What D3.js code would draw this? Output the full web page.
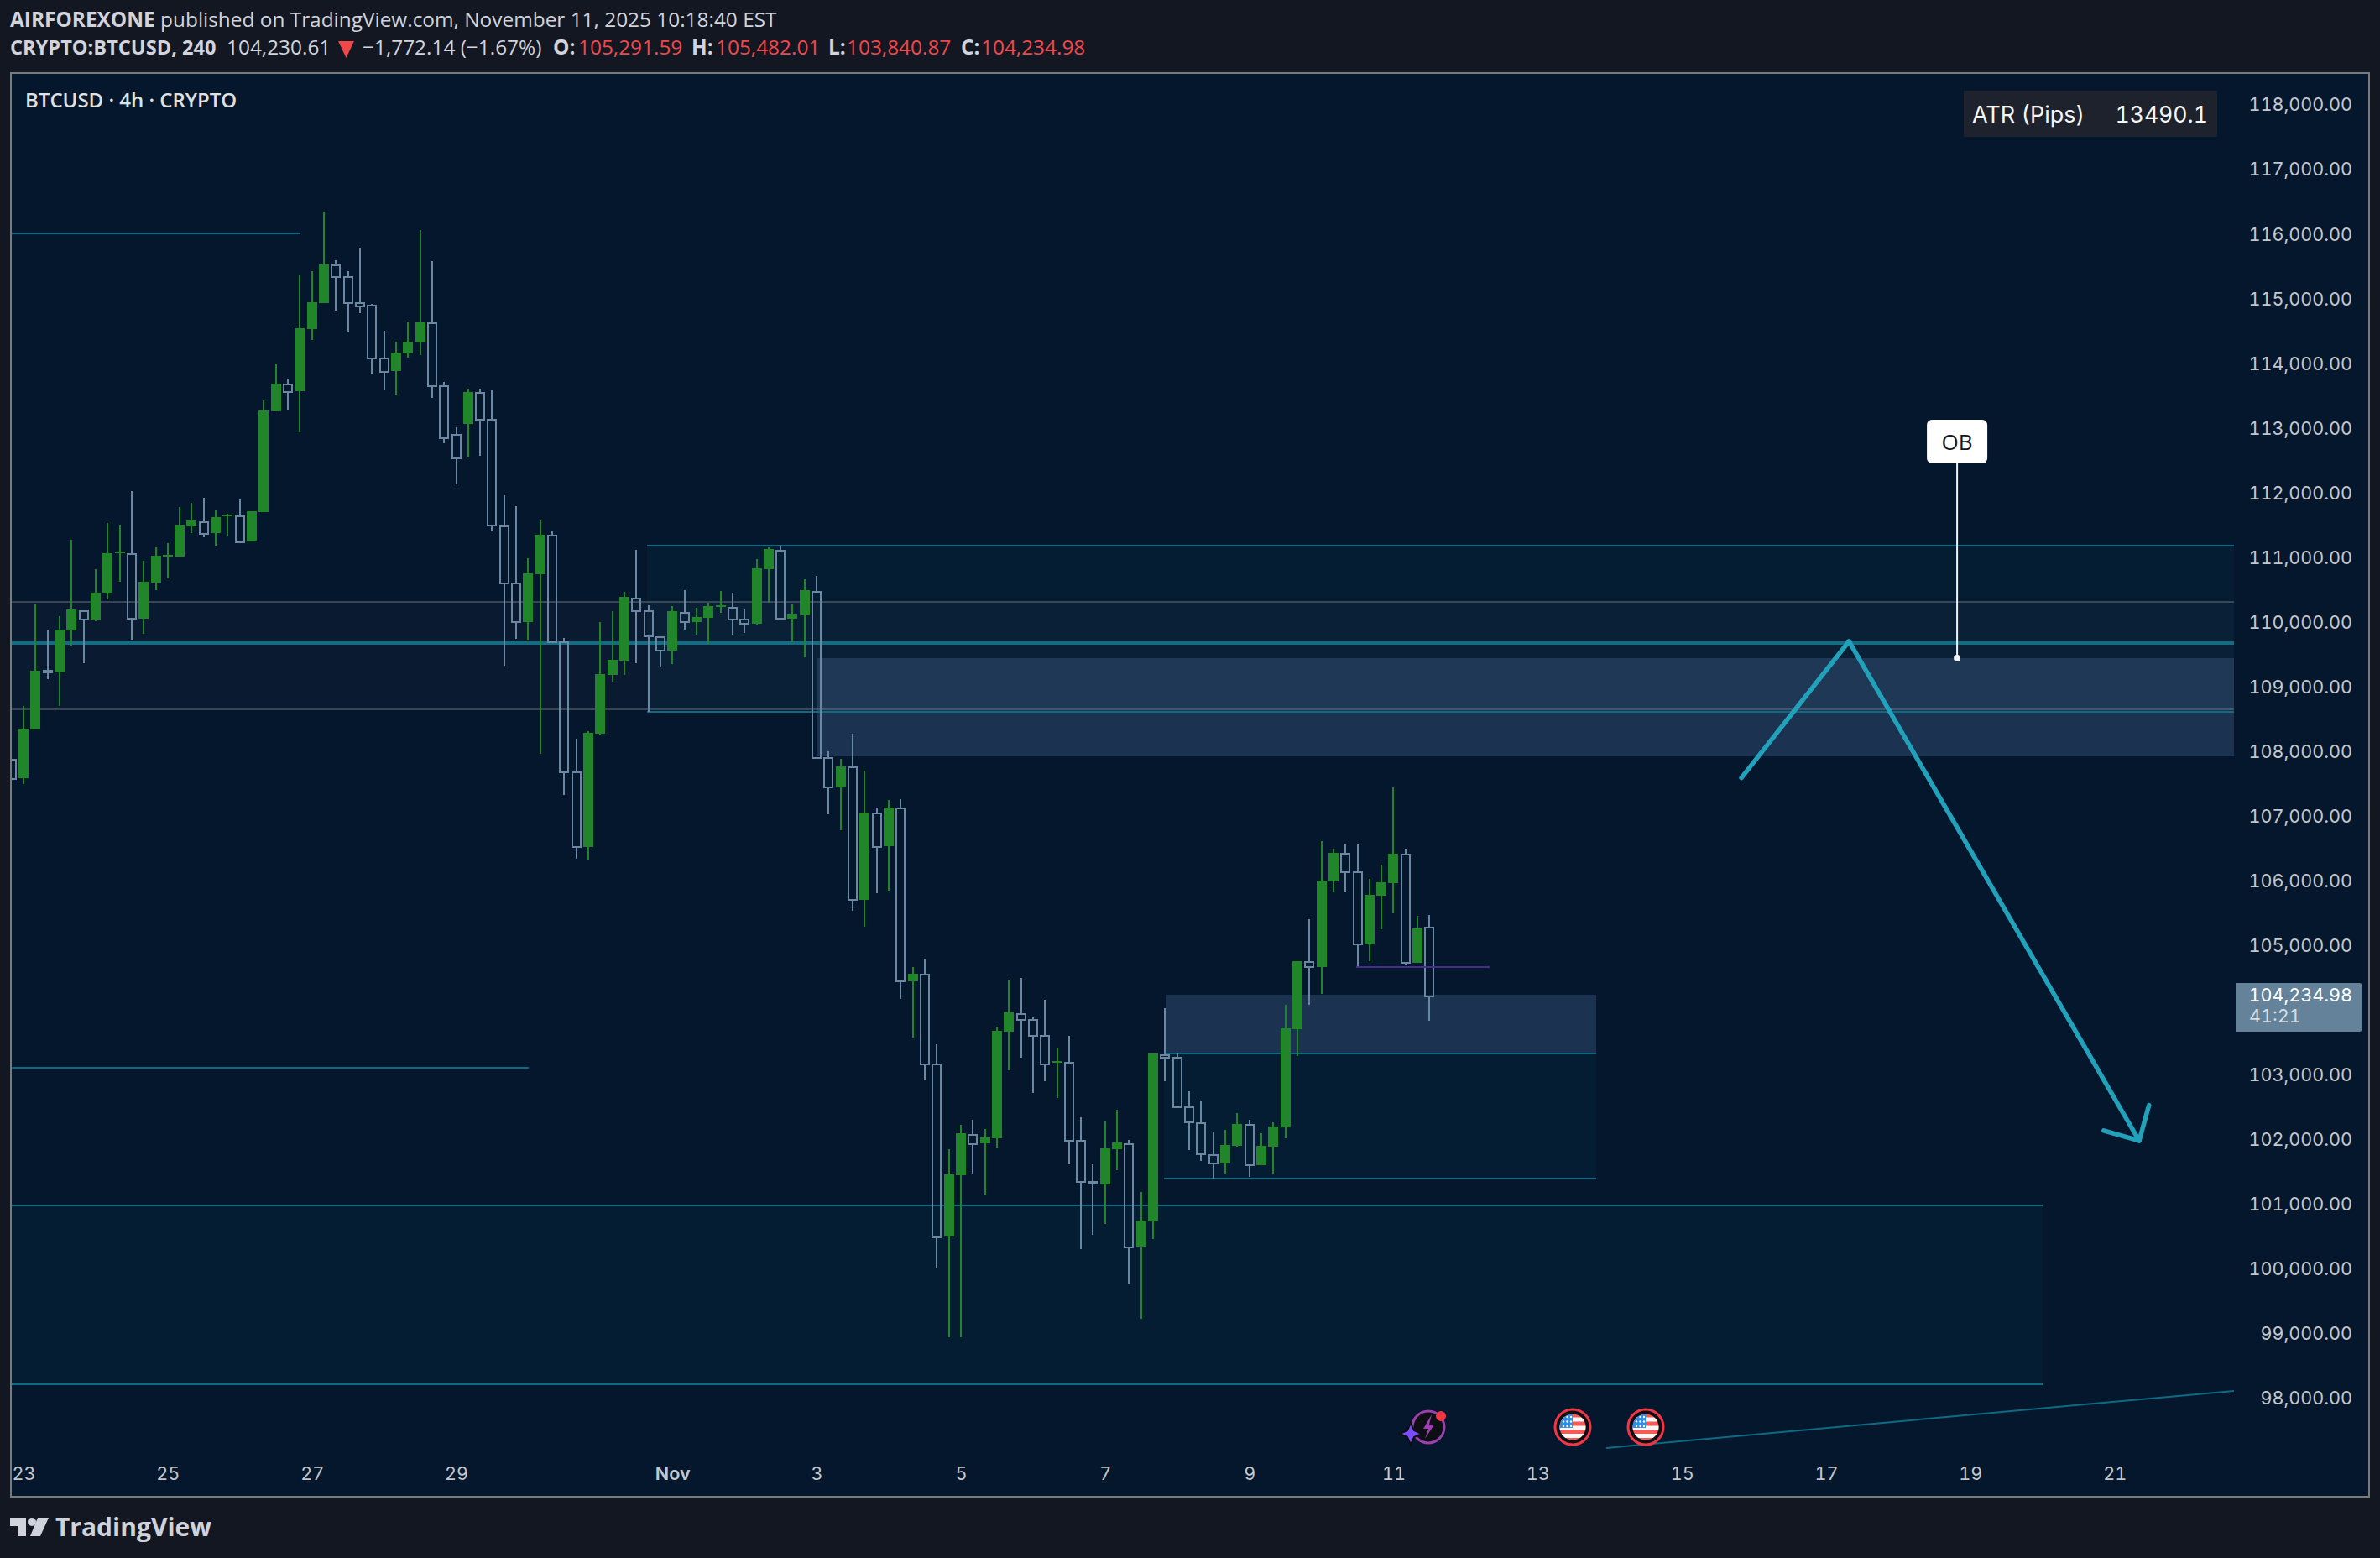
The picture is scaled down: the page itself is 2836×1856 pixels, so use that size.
<!DOCTYPE html>
<html>
<head>
<meta charset="utf-8">
<script src="https://cdn.jsdelivr.net/npm/d3@7"></script>
<style>
html,body{margin:0;padding:0;background:#131722;}
svg{display:block;}
text{font-family:"Open Sans",sans-serif;}
.num{font-family:Inter,sans-serif !important;font-feature-settings:"tnum" 1;font-variant-numeric:tabular-nums;}
</style>
</head>
<body>
<div id="chart"></div>
<script>
// ---- OHLC, 4h bars; the first bar sits one step before Oct 23 00:00 ----
const firstBar = -1;
const opens = [107886,107596,108348,109262,109227,109876,110191,110045,110447,111070,111074,110058,110616,111018,111018,111485,111567,111381,111641,111650,111252,111706,113263,113691,113575,114535,114937,115530,115349,114950,114907,114090,113886,114159,114327,114639,113665,112906,113069,113562,113147,111502,110620,110006,110745,111352,109701,107692,106528,108280,109188,109409,110386,110183,109789,109564,110165,110006,110071,110239,110243,110054,109980,110823,111126,110058,110110,110490,107910,107449,107767,105710,107054,106541,107138,104451,104568,103179,100506,101453,102093,101946,102024,103672,103958,103867,103614,103199,103199,101998,101362,101310,101856,101950,100350,100739,103327,103279,102521,102275,101782,101635,101907,102238,101609,101894,102193,103711,104759,104672,105995,106433,106147,105022,105775,105970,106420,104737,105291.59];
const highs = [107886,108708,110278,109876,110097,111278,110191,110823,111537,111498,112030,110953,111161,111226,111784,111849,111926,111732,111680,111900,111719,113432,113990,113769,115366,115430,116353,115599,115430,115794,114924,114509,114340,114652,116066,115586,113717,113010,113613,113613,113588,111965,111797,110992,111576,111420,109759,108202,108319,110006,110174,110473,111122,110265,109789,110252,110499,110226,110304,110486,110460,110200,110979,111161,111187,110278,110668,110720,108007,107893,108280,107709,107138,107255,107268,104672,104802,103478,101856,102232,102310,102167,103750,104477,104503,103906,104166,103426,103608,102349,101622,102284,102465,101998,101187,103335,104036,103335,102751,102608,102128,102154,102414,102310,102102,102271,104088,104763,105411,106618,106502,106567,106567,106034,106255,107449,106502,105463,105482.01];
const lows = [107596,107505,108348,109123,108708,109642,109370,110019,110356,110629,109733,109824,110499,110681,111018,111381,111316,111187,111342,111256,111252,111706,113263,113289,112939,114366,114937,114820,114496,114781,113847,113601,113510,114094,114133,113470,112770,112140,112543,112569,111407,109331,109746,109720,107968,109701,107332,106342,106329,108254,109084,109188,109370,108617,109305,109357,109889,109811,109668,110148,109811,109837,109967,110304,110064,109694,109461,107912,107034,106787,105541,105295,105814,105840,104179,103582,102920,100013,98948,98948,101479,101155,101881,103075,103270,102725,102907,102647,101622,100311,100532,100700,101531,99766,99234,100467,102907,102504,101843,101674,101401,101466,101894,101427,101609,101479,102024,103296,104088,104256,105827,105827,104672,104763,105256,105502,104711,104737,103840.87];
const closes = [107596,108357,109253,109240,109889,110200,110054,110460,111070,111096,110064,110629,111031,111044,111498,111576,111385,111628,111667,111256,111719,113276,113691,113578,114548,114950,115535,115349,114946,114898,114090,113890,114172,114340,114639,113665,112860,112543,113562,113147,111511,110609,110015,110758,111355,109701,107692,106537,108293,109201,109422,110395,110183,109794,109574,110174,110015,110084,110252,110265,110054,109989,110836,111135,110064,110122,110499,107912,107457,107773,105723,107060,106545,107138,104464,104568,103179,100511,101466,102102,101950,102037,103685,103971,103867,103614,103179,103218,101998,101362,101330,101868,101959,100355,100752,103335,103277,102521,102280,101787,101644,101920,102245,101618,101907,102206,103724,104763,104681,106008,106437,106147,105031,105788,105983,106424,104746,105269,104234.98];

// ---- Axis ticks ----
const priceTicks = [98000,99000,100000,101000,102000,103000,105000,106000,107000,108000,109000,110000,111000,112000,113000,114000,115000,116000,117000,118000];
const timeTickBars = [0,12,24,36,54,66,78,90,102,114,126,138,150,162,174];
const timeTickLabels = ["23","25","27","29","Nov","3","5","7","9","11","13","15","17","19","21"];

// ---- Drawings (bar index / price) ----
const lastPrice = 104234.98;
const paneStartBar = -0.98, paneEndBar = 183.94;
const greyBandTop = 110317, greyBandBottom = 108656;
const thickLevel = 109685;
const upperZone = {x0:51.9, x1:paneEndBar, top:111187, bottom:108617};
const obZone = {x0:66.06, x1:paneEndBar, top:109447, bottom:107933};
const lowerObZone = {x0:95.04, x1:130.9, top:104240, bottom:103339};
const lowerZone = {x0:94.9, x1:130.9, top:103339, bottom:101405};
const bottomZone = {x0:paneStartBar, x1:168.0, top:100989, bottom:98222};
const topLeftLevel = {x0:paneStartBar, x1:23.04, price:116018};
const midLeftLevel = {x0:paneStartBar, x1:42.04, price:103120};
const purpleLevel = {x0:110.9, x1:122.0, price:104676};
const trendBars = [131.7,183.94], trendPrices = [97235,98118];
const pathBars = [142.95,151.9,176.05], pathPrices = [107596,109707,101985];
const headBars = [176.86,176.05,173.1], headPrices = [102534,101985,102141];
const obAnchorBar = 160.9, obAnchorPrice = 109447;

const W=2836,H=1856;
const frame={l:13,t:87,r:2823,b:1783};
const x=d3.scaleLinear().domain([0,1]).range([28,42.32]);
const y=d3.scaleLinear().domain([98000,118000]).range([1666,125]);

const svg=d3.select("#chart").append("svg").attr("width",W).attr("height",H);
svg.append("rect").attr("width",W).attr("height",H).attr("fill","#131722");
svg.append("rect").attr("x",frame.l).attr("y",frame.t).attr("width",frame.r-frame.l).attr("height",frame.b-frame.t)
   .attr("fill","#05172D").attr("stroke","#787B7C").attr("stroke-width",2);

const defs=svg.append("defs");
defs.append("clipPath").attr("id","pane").append("rect").attr("x",14).attr("y",88).attr("width",2648).attr("height",1694);
const pane=svg.append("g").attr("clip-path","url(#pane)");
const crisp=g=>g.attr("shape-rendering","crispEdges");

const TEAL="#0C6B84", FILLT="rgba(10,100,120,0.08)", FILLOB="rgba(60,90,130,0.42)", GREY="rgba(120,123,134,0.45)";
const sx=v=>Math.round(x(v)), sy=v=>Math.round(y(v));
function band(z,fill){pane.append("rect").call(crisp).attr("x",sx(z.x0)).attr("width",sx(z.x1)-sx(z.x0)).attr("y",sy(z.top)).attr("height",sy(z.bottom)-sy(z.top)).attr("fill",fill);}
function level(x0,x1,p,c,w){pane.append("line").call(crisp).attr("x1",sx(x0)).attr("x2",sx(x1)).attr("y1",sy(p)).attr("y2",sy(p)).attr("stroke",c).attr("stroke-width",w||2);}

band({x0:paneStartBar,x1:paneEndBar,top:greyBandTop,bottom:greyBandBottom},"rgba(120,123,134,0.05)");
band(upperZone,FILLT);
band(lowerZone,FILLT);
band(bottomZone,FILLT);
band(obZone,FILLOB);
band(lowerObZone,FILLOB);
level(paneStartBar,paneEndBar,greyBandTop,GREY);
level(paneStartBar,paneEndBar,greyBandBottom,GREY);
level(upperZone.x0,upperZone.x1,upperZone.top,TEAL);
level(upperZone.x0,upperZone.x1,upperZone.bottom,TEAL);
level(paneStartBar,paneEndBar,thickLevel,"#156C82",4);
level(lowerZone.x0,lowerZone.x1,lowerZone.top,TEAL);
level(lowerZone.x0,lowerZone.x1,lowerZone.bottom,TEAL);
level(bottomZone.x0,bottomZone.x1,bottomZone.top,TEAL);
level(bottomZone.x0,bottomZone.x1,bottomZone.bottom,TEAL);
level(topLeftLevel.x0,topLeftLevel.x1,topLeftLevel.price,TEAL);
level(midLeftLevel.x0,midLeftLevel.x1,midLeftLevel.price,TEAL);

// trend line
const ln=d3.line().x(d=>x(d[0])).y(d=>y(d[1]));
pane.append("path").attr("d",ln(d3.zip(trendBars,trendPrices))).attr("fill","none").attr("stroke",TEAL).attr("stroke-width",2);

// candles
const candles=opens.map((o,i)=>({i:i+firstBar,o,h:highs[i],l:lows[i],c:closes[i]}));
const GREEN="#21862A", HOLLOW="#6A88A1";
const cg=pane.append("g").attr("shape-rendering","crispEdges");
const items=cg.selectAll("g").data(candles).join("g");
items.each(function(d){
  const g=d3.select(this), cx=sx(d.i), up=d.c>=d.o;
  const top=sy(Math.max(d.o,d.c)), bot=sy(Math.min(d.o,d.c));
  const col=up?GREEN:HOLLOW;
  if(sy(d.h)<top) g.append("rect").attr("x",cx-1).attr("width",2).attr("y",sy(d.h)).attr("height",top-sy(d.h)).attr("fill",col);
  if(sy(d.l)>bot) g.append("rect").attr("x",cx-1).attr("width",2).attr("y",bot).attr("height",sy(d.l)-bot).attr("fill",col);
  if(up){
    g.append("rect").attr("x",cx-6).attr("width",12).attr("y",top).attr("height",Math.max(2,bot-top)).attr("fill",col);
  }else{
    g.append("rect").attr("x",cx-5).attr("width",10).attr("y",top+1).attr("height",Math.max(1,bot-top)).attr("fill","none").attr("stroke",col).attr("stroke-width",2);
  }
});

level(purpleLevel.x0,purpleLevel.x1,purpleLevel.price,"#4A2A95");

// hand-drawn projection path + arrow head
const P="#22A2BA";
pane.append("path").attr("d",ln(d3.zip(pathBars,pathPrices))).attr("fill","none").attr("stroke",P).attr("stroke-width",5.5).attr("stroke-linecap","round").attr("stroke-linejoin","round");
pane.append("path").attr("d",ln(d3.zip(headBars,headPrices))).attr("fill","none").attr("stroke",P).attr("stroke-width",5.5).attr("stroke-linecap","round").attr("stroke-linejoin","round");

// OB callout
const obx=x(obAnchorBar), oby=y(obAnchorPrice);
pane.append("line").attr("x1",obx).attr("x2",obx).attr("y1",545).attr("y2",oby).attr("stroke","#F2F3F5").attr("stroke-width",2);
pane.append("circle").attr("cx",obx).attr("cy",oby).attr("r",4).attr("fill","#F2F3F5");
pane.append("rect").attr("x",obx-36).attr("y",500).attr("width",72).attr("height",52).attr("rx",6).attr("fill","#fff");
pane.append("text").attr("x",obx).attr("y",535.5).attr("text-anchor","middle").attr("font-size",26).attr("fill","#131722").text("OB");

// event icons
function flag(cx,cy){
  const g=svg.append("g").attr("transform",`translate(${cx},${cy})`);
  g.append("circle").attr("r",21).attr("fill","#0d0f14").attr("stroke","#F23645").attr("stroke-width",3);
  const id="c"+cx;
  defs.append("clipPath").attr("id",id).append("circle").attr("r",15.5);
  const f=g.append("g").attr("clip-path",`url(#${id})`);
  f.append("rect").attr("x",-16).attr("y",-16).attr("width",32).attr("height",32).attr("fill","#F45B56");
  [-9.5,0.5,10].forEach(yy=>f.append("rect").attr("x",-16).attr("y",yy-2).attr("width",32).attr("height",5).attr("fill","#F7F7F7"));
  f.append("rect").attr("x",-16).attr("y",-16).attr("width",16).attr("height",17).attr("fill","#2E8FE8");
  for(let a=0;a<3;a++)for(let b=0;b<3;b++)f.append("circle").attr("cx",-11+b*4.5).attr("cy",-12+a*5.5).attr("r",1.2).attr("fill","#fff");
}
flag(1874,1700); flag(1961,1700);
(function(){
  const g=svg.append("g").attr("transform","translate(1702,1700)");
  g.append("circle").attr("r",21).attr("fill","#0d0f14");
  g.append("circle").attr("r",19).attr("fill","none").attr("stroke","#9C3FB0").attr("stroke-width",3);
  g.append("path").attr("d","M4,-15 L-6,2 L0,2 L-4,14 L7,-3 L1,-3 Z").attr("fill","#9C3FB0");
  g.append("circle").attr("cx",15).attr("cy",-13).attr("r",6).attr("fill","#F23645");
  g.append("path").attr("d","M-21,-5 L-17,4 L-8,8 L-17,12 L-21,21 L-25,12 L-34,8 L-25,4 Z").attr("fill","#7C4DFF").attr("stroke","#0d0f14").attr("stroke-width",2);
})();

// axes
const AF=21.6;
const yAxis=d3.axisLeft(y).tickValues(priceTicks).tickSize(0).tickPadding(0).tickFormat(d3.format(",.2f"));
const yg=svg.append("g").attr("transform","translate(2803,0)").call(yAxis);
yg.select(".domain").remove();
yg.selectAll("text").attr("class","num").attr("font-size",AF).attr("fill","#C4C7CC");

const xAxis=d3.axisBottom(x).tickValues(timeTickBars).tickSize(0).tickPadding(0).tickFormat((d,i)=>timeTickLabels[i]);
const xg=svg.append("g").attr("transform","translate(0,1743)").call(xAxis);
xg.select(".domain").remove();
xg.selectAll("text").attr("class","num").attr("font-size",AF).attr("fill","#C4C7CC").attr("dy",0).attr("y",20)
  .attr("font-weight",(d,i)=>timeTickLabels[i]==="Nov"?600:400);

// last price label
svg.append("path").attr("d","M2664,1171 H2811 Q2815,1171 2815,1175 V1225 Q2815,1229 2811,1229 H2664 Z").attr("fill","#648299");
svg.append("text").attr("class","num").attr("x",2803).attr("y",1193).attr("text-anchor","end").attr("font-size",AF).attr("fill","#fff").text(d3.format(",.2f")(lastPrice));
svg.append("text").attr("class","num").attr("x",2680).attr("y",1218).attr("font-size",AF).attr("fill","#D5DDE3").text("41:21");

// ATR table
svg.append("rect").attr("x",2340).attr("y",108).attr("width",302).attr("height",55).attr("fill","#1E222D");
svg.append("text").attr("class","num").attr("x",2350).attr("y",146).attr("font-size",27).attr("fill","#F4F5F6").text("ATR (Pips)");
svg.append("text").attr("class","num").attr("x",2631).attr("y",146).attr("text-anchor","end").attr("font-size",26.6).attr("fill","#F4F5F6").text("13490.1");

// header
const TXT="#D1D4DC", RED="#F0474B", HF=24.4;
function t(xp,yp,s,c,b,fs){svg.append("text").attr("x",xp).attr("y",yp).attr("font-size",fs||HF).attr("fill",c||TXT).attr("font-weight",b?700:400).text(s);}
const line1=svg.append("text").attr("x",12).attr("y",32).attr("font-size",HF).attr("fill",TXT);
line1.append("tspan").attr("font-weight",700).text("AIRFOREXONE");
line1.append("tspan").text(" published on TradingView.com, November 11, 2025 10:18:40 EST");
t(12,65,"CRYPTO:BTCUSD, 240",TXT,true,23.6);
t(270,65,"104,230.61");
svg.append("path").attr("d","M403,49 H422 L412.5,69 Z").attr("fill",RED);
t(432,65,"−1,772.14 (−1.67%)");
t(659,65,"O:",TXT,true); t(689,65,"105,291.59",RED);
t(824,65,"H:",TXT,true); t(853,65,"105,482.01",RED);
t(987,65,"L:",TXT,true); t(1009,65,"103,840.87",RED);
t(1145,65,"C:",TXT,true); t(1169,65,"104,234.98",RED);
svg.append("text").attr("x",30).attr("y",128).attr("font-size",24).attr("font-weight",600).attr("fill","#E0E1E3").text("BTCUSD · 4h · CRYPTO");

// TradingView logo
const LOGO="#D0D2DC";
svg.append("path").attr("d","M12,1808 H31 V1830 H21 V1818 H12 Z").attr("fill",LOGO);
svg.append("circle").attr("cx",38).attr("cy",1813).attr("r",5).attr("fill",LOGO);
svg.append("path").attr("d","M45,1808 H58 L48,1830 H36 Z").attr("fill",LOGO);
svg.append("text").attr("x",66).attr("y",1830).attr("font-size",30).attr("font-weight",700).attr("fill",LOGO).text("TradingView");
</script>
</body>
</html>
